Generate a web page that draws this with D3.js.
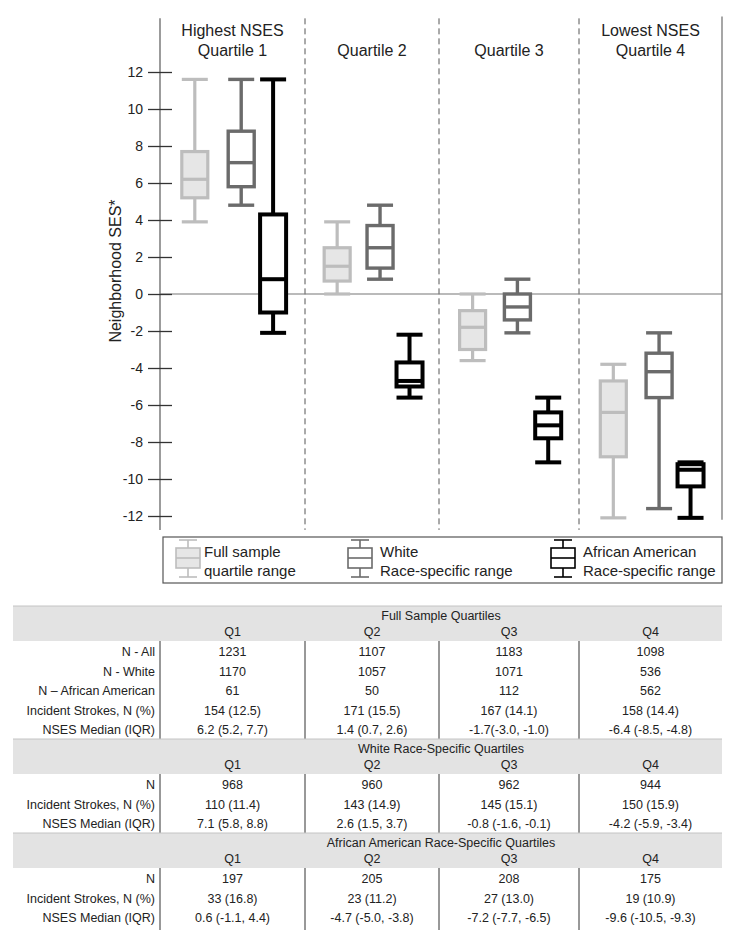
<!DOCTYPE html>
<html>
<head>
<meta charset="utf-8">
<script src="https://cdn.jsdelivr.net/npm/d3@7"></script>
<style>
  body { margin: 0; background: #fff; }
  svg { display: block; font-family: "Liberation Sans", Arial, sans-serif; }
</style>
</head>
<body>
<svg id="chart" width="732" height="952"></svg>
<script>
// quartile columns and their headings
var quartiles = ['Q1', 'Q2', 'Q3', 'Q4'];
var headTop = ['Highest NSES', '', '', 'Lowest NSES'];
var headBottom = ['Quartile 1', 'Quartile 2', 'Quartile 3', 'Quartile 4'];
var yTicks = [-12, -10, -8, -6, -4, -2, 0, 2, 4, 6, 8, 10, 12];

// box values per quartile: [min, lower IQR, median, upper IQR, max]
var fullSample = [[3.9, 5.2, 6.2, 7.7, 11.6], [0.0, 0.7, 1.5, 2.5, 3.9], [-3.6, -3.0, -1.8, -0.9, 0.0], [-12.1, -8.8, -6.4, -4.7, -3.8]];
var whiteRace = [[4.8, 5.8, 7.1, 8.8, 11.6], [0.8, 1.4, 2.5, 3.7, 4.8], [-2.1, -1.4, -0.7, 0.0, 0.8], [-11.6, -5.6, -4.2, -3.2, -2.1]];
var aaRace = [[-2.1, -1.0, 0.8, 4.3, 11.6], [-5.6, -5.0, -4.7, -3.7, -2.2], [-9.1, -7.8, -7.1, -6.4, -5.6], [-12.1, -10.4, -9.5, -9.2, -9.1]];

var legendTop = ['Full sample', 'White', 'African American'];
var legendBottom = ['quartile range', 'Race-specific range', 'Race-specific range'];

// table
var sectionTitles = ['Full Sample Quartiles', 'White Race-Specific Quartiles', 'African American Race-Specific Quartiles'];
var fullLabels = ['N - All', 'N - White', 'N \u2013 African American', 'Incident Strokes, N (%)', 'NSES Median (IQR)'];
var fullValues = [
  ['1231', '1107', '1183', '1098'],
  ['1170', '1057', '1071', '536'],
  ['61', '50', '112', '562'],
  ['154 (12.5)', '171 (15.5)', '167 (14.1)', '158 (14.4)'],
  ['6.2 (5.2, 7.7)', '1.4 (0.7, 2.6)', '-1.7(-3.0, -1.0)', '-6.4 (-8.5, -4.8)']
];
var whiteLabels = ['N', 'Incident Strokes, N (%)', 'NSES Median (IQR)'];
var whiteValues = [
  ['968', '960', '962', '944'],
  ['110 (11.4)', '143 (14.9)', '145 (15.1)', '150 (15.9)'],
  ['7.1 (5.8, 8.8)', '2.6 (1.5, 3.7)', '-0.8 (-1.6, -0.1)', '-4.2 (-5.9, -3.4)']
];
var aaLabels = ['N', 'Incident Strokes, N (%)', 'NSES Median (IQR)'];
var aaValues = [
  ['197', '205', '208', '175'],
  ['33 (16.8)', '23 (11.2)', '27 (13.0)', '19 (10.9)'],
  ['0.6 (-1.1,  4.4)', '-4.7 (-5.0, -3.8)', '-7.2 (-7.7, -6.5)', '-9.6 (-10.5, -9.3)']
];

var svg = d3.select('#chart');

// column edges are not even in the original, so map column index -> pixel piecewise
var x = d3.scaleLinear().domain([0, 1, 2, 3, 4]).range([160, 305, 439, 579, 722]);
var y = d3.scaleLinear().domain([-12, 12]).range([516, 72]);
function colCenter(i) { return x(i + 0.5); }

var series = [
  {name: 'full', data: fullSample, pos: 0.24, stroke: '#bdbdbd', fill: '#e6e6e6', width: 3.2},
  {name: 'white', data: whiteRace, pos: 0.56, stroke: '#6b6b6b', fill: '#fff', width: 3.4},
  {name: 'aa', data: aaRace, pos: 0.78, stroke: '#000', fill: '#fff', width: 4}
];
var boxW = 26;

// frame
var plot = svg.append('g');
plot.append('line').attr('x1', x(0)).attr('x2', x(0)).attr('y1', y(14.9)).attr('y2', y(-12.75))
  .attr('stroke', '#666').attr('stroke-width', 1.3);
plot.append('line').attr('x1', x(4)).attr('x2', x(4)).attr('y1', y(15)).attr('y2', y(-12.2))
  .attr('stroke', '#777').attr('stroke-width', 1.3);
plot.selectAll('.divider').data([1, 2, 3]).enter().append('line')
  .attr('class', 'divider')
  .attr('x1', function (d) { return x(d); }).attr('x2', function (d) { return x(d); })
  .attr('y1', y(14.9)).attr('y2', y(-12.75))
  .attr('stroke', '#555').attr('stroke-width', 1).attr('stroke-dasharray', '6,4');
plot.append('line').attr('x1', x(0)).attr('x2', x(4)).attr('y1', y(0)).attr('y2', y(0))
  .attr('stroke', '#777').attr('stroke-width', 1.2);

// y axis, ticks cross the axis line
var axis = svg.append('g').attr('transform', 'translate(172,0)')
  .call(d3.axisLeft(y).tickValues(yTicks).tickSize(24).tickPadding(5)
    .tickFormat(function (d) { return String(d); }));
axis.select('.domain').remove();
axis.selectAll('line').attr('stroke', '#333').attr('stroke-width', 1.3);
axis.selectAll('text').attr('font-size', 14).attr('fill', '#222')
  .attr('font-family', '"Liberation Sans", Arial, sans-serif');

svg.append('text').attr('transform', 'translate(121,271) rotate(-90)')
  .attr('text-anchor', 'middle').attr('font-size', 16).attr('fill', '#222')
  .text('Neighborhood SES*');

// column headings
var heads = svg.append('g').attr('font-size', 16).attr('fill', '#222').attr('text-anchor', 'middle');
heads.selectAll('.ht').data(quartiles).enter().append('text')
  .attr('x', function (d, i) { return colCenter(i); }).attr('y', 36)
  .text(function (d, i) { return headTop[i]; });
heads.selectAll('.hb').data(quartiles).enter().append('text')
  .attr('x', function (d, i) { return colCenter(i); }).attr('y', 56)
  .text(function (d, i) { return headBottom[i]; });

// boxes
series.forEach(function (s) {
  var g = svg.append('g').attr('stroke', s.stroke).attr('stroke-width', s.width);
  var items = g.selectAll('g').data(s.data).enter().append('g')
    .attr('transform', function (d, i) { return 'translate(' + x(i + s.pos) + ',0)'; });
  items.append('line').attr('y1', function (d) { return y(d[0]); }).attr('y2', function (d) { return y(d[4]); });
  items.append('line').attr('x1', -boxW / 2).attr('x2', boxW / 2)
    .attr('y1', function (d) { return y(d[0]); }).attr('y2', function (d) { return y(d[0]); });
  items.append('line').attr('x1', -boxW / 2).attr('x2', boxW / 2)
    .attr('y1', function (d) { return y(d[4]); }).attr('y2', function (d) { return y(d[4]); });
  items.append('rect').attr('x', -boxW / 2).attr('width', boxW)
    .attr('y', function (d) { return y(d[3]); })
    .attr('height', function (d) { return y(d[1]) - y(d[3]); })
    .attr('fill', s.fill);
  items.append('line').attr('x1', -boxW / 2).attr('x2', boxW / 2)
    .attr('y1', function (d) { return y(d[2]); }).attr('y2', function (d) { return y(d[2]); });
});

// legend
var legend = svg.append('g');
legend.append('rect').attr('x', 163).attr('y', 537).attr('width', 559).attr('height', 46)
  .attr('fill', 'none').attr('stroke', '#555').attr('stroke-width', 1.2);
var legX = [188, 360, 563];
var legText = [204, 380, 583];
series.forEach(function (s, i) {
  var ic = legend.append('g').attr('stroke', s.stroke).attr('stroke-width', 1.6);
  ic.append('line').attr('x1', legX[i]).attr('x2', legX[i]).attr('y1', 540).attr('y2', 577);
  ic.append('line').attr('x1', legX[i] - 9).attr('x2', legX[i] + 9).attr('y1', 540).attr('y2', 540);
  ic.append('line').attr('x1', legX[i] - 9).attr('x2', legX[i] + 9).attr('y1', 577).attr('y2', 577);
  ic.append('rect').attr('x', legX[i] - 12).attr('y', 548).attr('width', 24).attr('height', 20).attr('fill', s.fill);
  ic.append('line').attr('x1', legX[i] - 12).attr('x2', legX[i] + 12).attr('y1', 558).attr('y2', 558);
  legend.append('text').attr('x', legText[i]).attr('y', 557).attr('font-size', 15).attr('fill', '#222').text(legendTop[i]);
  legend.append('text').attr('x', legText[i]).attr('y', 576).attr('font-size', 15).attr('fill', '#222').text(legendBottom[i]);
});

// table
var sections = [
  {title: sectionTitles[0], labels: fullLabels, values: fullValues, top: 606},
  {title: sectionTitles[1], labels: whiteLabels, values: whiteValues, top: 739},
  {title: sectionTitles[2], labels: aaLabels, values: aaValues, top: 833}
];
var rowH = 19.5;
var table = svg.append('g').attr('font-size', 12.5).attr('fill', '#222');

sections.forEach(function (sec, si) {
  var t = sec.top;
  table.append('rect').attr('x', 13).attr('y', t).attr('width', 709).attr('height', 35).attr('fill', '#e3e3e3');
  table.append('line').attr('x1', 13).attr('x2', 722).attr('y1', t).attr('y2', t).attr('stroke', '#c4c4c4');
  table.append('text').attr('x', (x(0) + x(4)) / 2).attr('y', t + 14).attr('text-anchor', 'middle').text(sec.title);
  table.selectAll('.qh' + si).data(quartiles).enter().append('text')
    .attr('x', function (d, i) { return colCenter(i); }).attr('y', t + 30)
    .attr('text-anchor', 'middle').text(function (d) { return d; });

  var bottom = si < sections.length - 1 ? sections[si + 1].top : 930;
  table.selectAll('.sep' + si).data([0, 1, 2, 3]).enter().append('line')
    .attr('x1', function (d) { return x(d); }).attr('x2', function (d) { return x(d); })
    .attr('y1', t + 35).attr('y2', bottom)
    .attr('stroke', '#333').attr('stroke-width', 1);

  sec.labels.forEach(function (lab, ri) {
    var by = t + 50 + ri * rowH;
    table.append('text').attr('x', 155).attr('y', by).attr('text-anchor', 'end').text(lab);
    table.selectAll('.r' + si + '_' + ri).data(sec.values[ri]).enter().append('text')
      .attr('x', function (d, i) { return colCenter(i); }).attr('y', by)
      .attr('text-anchor', 'middle').text(function (d) { return d; });
  });
});
</script>
</body>
</html>
